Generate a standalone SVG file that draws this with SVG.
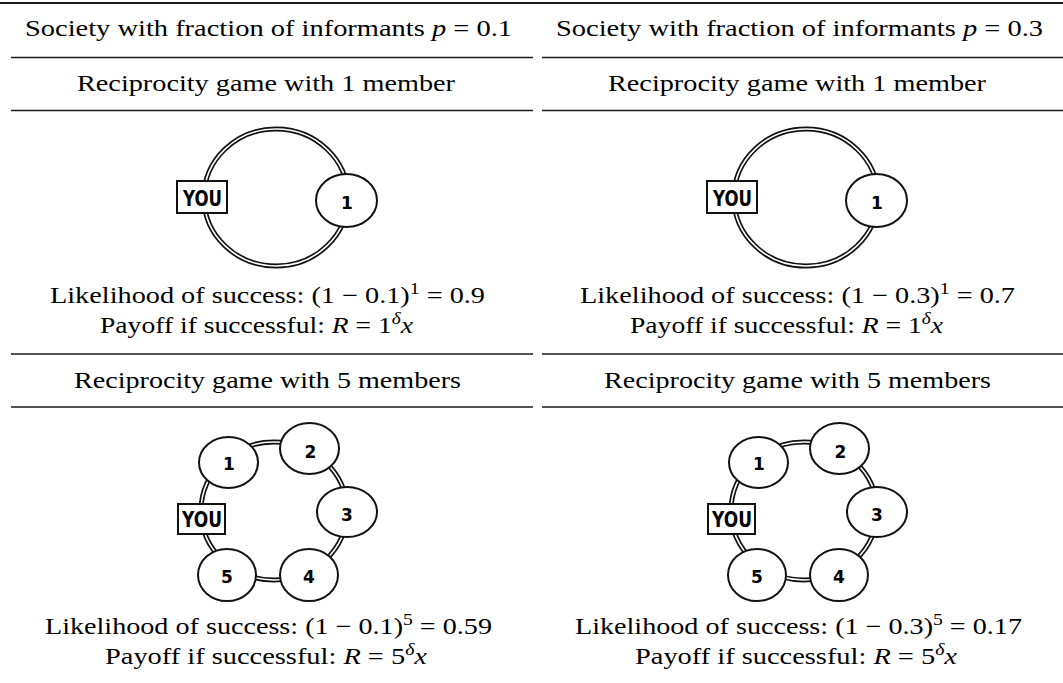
<svg xmlns="http://www.w3.org/2000/svg" width="1063" height="683" viewBox="0 0 1063 683">
<style>
.t{font-family:"Liberation Serif","Times New Roman",serif;font-size:23px;fill:#000}
.i{font-style:italic}
.sup{font-size:16px}
.rule{stroke:#1a1a1a;stroke-width:1.3;fill:none}
.top{stroke:#1a1a1a;stroke-width:2.2}
.ro{fill:none;stroke:#111;stroke-width:5}
.ri{fill:none;stroke:#fff;stroke-width:1.6}
.node{fill:#fff;stroke:#111;stroke-width:2}
.lbl{font-family:"DejaVu Sans",Verdana,sans-serif;font-weight:bold;font-size:17px;text-anchor:middle;fill:#000}
.you{font-family:"DejaVu Sans",Verdana,sans-serif;font-weight:bold;font-size:21px;fill:#000}
</style>
<rect width="1063" height="683" fill="#fff"/>
<g id="rules">
<line class="top" x1="0" y1="3" x2="1063" y2="3"/>
<line class="rule" x1="11" y1="57.5" x2="533" y2="57.5"/><line class="rule" x1="542" y1="57.5" x2="1063" y2="57.5"/>
<line class="rule" x1="11" y1="110.5" x2="533" y2="110.5"/><line class="rule" x1="542" y1="110.5" x2="1063" y2="110.5"/>
<line class="rule" x1="11" y1="354" x2="533" y2="354"/><line class="rule" x1="542" y1="354" x2="1063" y2="354"/>
<line class="rule" x1="11" y1="407" x2="533" y2="407"/><line class="rule" x1="542" y1="407" x2="1063" y2="407"/>
</g>
<g id="texts">
<text class="t" x="25" y="36" textLength="487" lengthAdjust="spacingAndGlyphs">Society with fraction of informants <tspan class="i">p</tspan> = 0.1</text>
<text class="t" x="556" y="36" textLength="487" lengthAdjust="spacingAndGlyphs">Society with fraction of informants <tspan class="i">p</tspan> = 0.3</text>
<text class="t" x="77" y="90.5" textLength="378" lengthAdjust="spacingAndGlyphs">Reciprocity game with 1 member</text>
<text class="t" x="608" y="90.5" textLength="378" lengthAdjust="spacingAndGlyphs">Reciprocity game with 1 member</text>
<text class="t" x="50" y="303" textLength="435" lengthAdjust="spacingAndGlyphs">Likelihood of success:  (1 − 0.1)<tspan class="sup" dy="-9">1</tspan><tspan dy="9"> = 0.9</tspan></text>
<text class="t" x="580" y="303" textLength="435" lengthAdjust="spacingAndGlyphs">Likelihood of success:  (1 − 0.3)<tspan class="sup" dy="-9">1</tspan><tspan dy="9"> = 0.7</tspan></text>
<text class="t" x="100" y="333" textLength="313" lengthAdjust="spacingAndGlyphs">Payoff if successful:  <tspan class="i">R</tspan> = 1<tspan class="sup i" dy="-9">δ</tspan><tspan class="i" dy="9">x</tspan></text>
<text class="t" x="630" y="333" textLength="313" lengthAdjust="spacingAndGlyphs">Payoff if successful:  <tspan class="i">R</tspan> = 1<tspan class="sup i" dy="-9">δ</tspan><tspan class="i" dy="9">x</tspan></text>
<text class="t" x="74" y="387.5" textLength="387" lengthAdjust="spacingAndGlyphs">Reciprocity game with 5 members</text>
<text class="t" x="604" y="387.5" textLength="387" lengthAdjust="spacingAndGlyphs">Reciprocity game with 5 members</text>
<text class="t" x="45" y="634" textLength="447" lengthAdjust="spacingAndGlyphs">Likelihood of success:  (1 − 0.1)<tspan class="sup" dy="-9">5</tspan><tspan dy="9"> = 0.59</tspan></text>
<text class="t" x="575" y="634" textLength="447" lengthAdjust="spacingAndGlyphs">Likelihood of success:  (1 − 0.3)<tspan class="sup" dy="-9">5</tspan><tspan dy="9"> = 0.17</tspan></text>
<text class="t" x="105" y="664" textLength="322" lengthAdjust="spacingAndGlyphs">Payoff if successful:  <tspan class="i">R</tspan> = 5<tspan class="sup i" dy="-9">δ</tspan><tspan class="i" dy="9">x</tspan></text>
<text class="t" x="635" y="664" textLength="322" lengthAdjust="spacingAndGlyphs">Payoff if successful:  <tspan class="i">R</tspan> = 5<tspan class="sup i" dy="-9">δ</tspan><tspan class="i" dy="9">x</tspan></text>
</g>
<g id="connectors">
<ellipse class="ro" cx="276" cy="197.5" rx="72" ry="68.5"/><ellipse class="ri" cx="276" cy="197.5" rx="72" ry="68.5"/>
<ellipse class="ro" cx="806" cy="197.5" rx="72" ry="68.5"/><ellipse class="ri" cx="806" cy="197.5" rx="72" ry="68.5"/>
<ellipse class="ro" cx="274" cy="511" rx="73" ry="69"/><ellipse class="ri" cx="274" cy="511" rx="73" ry="69"/>
<ellipse class="ro" cx="804" cy="511" rx="73" ry="69"/><ellipse class="ri" cx="804" cy="511" rx="73" ry="69"/>
</g>
<g id="a-you"><rect class="node" x="177" y="181" width="50" height="32"/><text class="you" x="183" y="206" textLength="39" lengthAdjust="spacingAndGlyphs">YOU</text></g>
<g id="a-n1"><ellipse class="node" cx="346.5" cy="200.5" rx="30.5" ry="26.5"/><text class="lbl" x="347" y="209">1</text></g>
<g id="b-you"><rect class="node" x="707" y="181" width="50" height="32"/><text class="you" x="713" y="206" textLength="39" lengthAdjust="spacingAndGlyphs">YOU</text></g>
<g id="b-n1"><ellipse class="node" cx="876.5" cy="200.5" rx="30.5" ry="26.5"/><text class="lbl" x="877" y="209">1</text></g>
<g id="c-you"><rect class="node" x="178" y="504" width="47" height="30"/><text class="you" x="182" y="527" font-size="20" textLength="40" lengthAdjust="spacingAndGlyphs">YOU</text></g>
<g id="c-n1"><ellipse class="node" cx="228.5" cy="462.5" rx="29.5" ry="25.5"/><text class="lbl" x="229" y="470">1</text></g>
<g id="c-n2"><ellipse class="node" cx="309.5" cy="448.5" rx="29.5" ry="25.5"/><text class="lbl" x="310.5" y="458">2</text></g>
<g id="c-n3"><ellipse class="node" cx="347" cy="512" rx="30" ry="25"/><text class="lbl" x="347" y="521">3</text></g>
<g id="c-n4"><ellipse class="node" cx="309" cy="575" rx="29" ry="26"/><text class="lbl" x="309" y="583">4</text></g>
<g id="c-n5"><ellipse class="node" cx="227" cy="575" rx="29" ry="26"/><text class="lbl" x="227" y="583">5</text></g>
<g id="d-you"><rect class="node" x="708" y="504" width="47" height="30"/><text class="you" x="712" y="527" font-size="20" textLength="40" lengthAdjust="spacingAndGlyphs">YOU</text></g>
<g id="d-n1"><ellipse class="node" cx="758.5" cy="462.5" rx="29.5" ry="25.5"/><text class="lbl" x="759" y="470">1</text></g>
<g id="d-n2"><ellipse class="node" cx="839.5" cy="448.5" rx="29.5" ry="25.5"/><text class="lbl" x="840.5" y="458">2</text></g>
<g id="d-n3"><ellipse class="node" cx="877" cy="512" rx="30" ry="25"/><text class="lbl" x="877" y="521">3</text></g>
<g id="d-n4"><ellipse class="node" cx="839" cy="575" rx="29" ry="26"/><text class="lbl" x="839" y="583">4</text></g>
<g id="d-n5"><ellipse class="node" cx="757" cy="575" rx="29" ry="26"/><text class="lbl" x="757" y="583">5</text></g>
</svg>
